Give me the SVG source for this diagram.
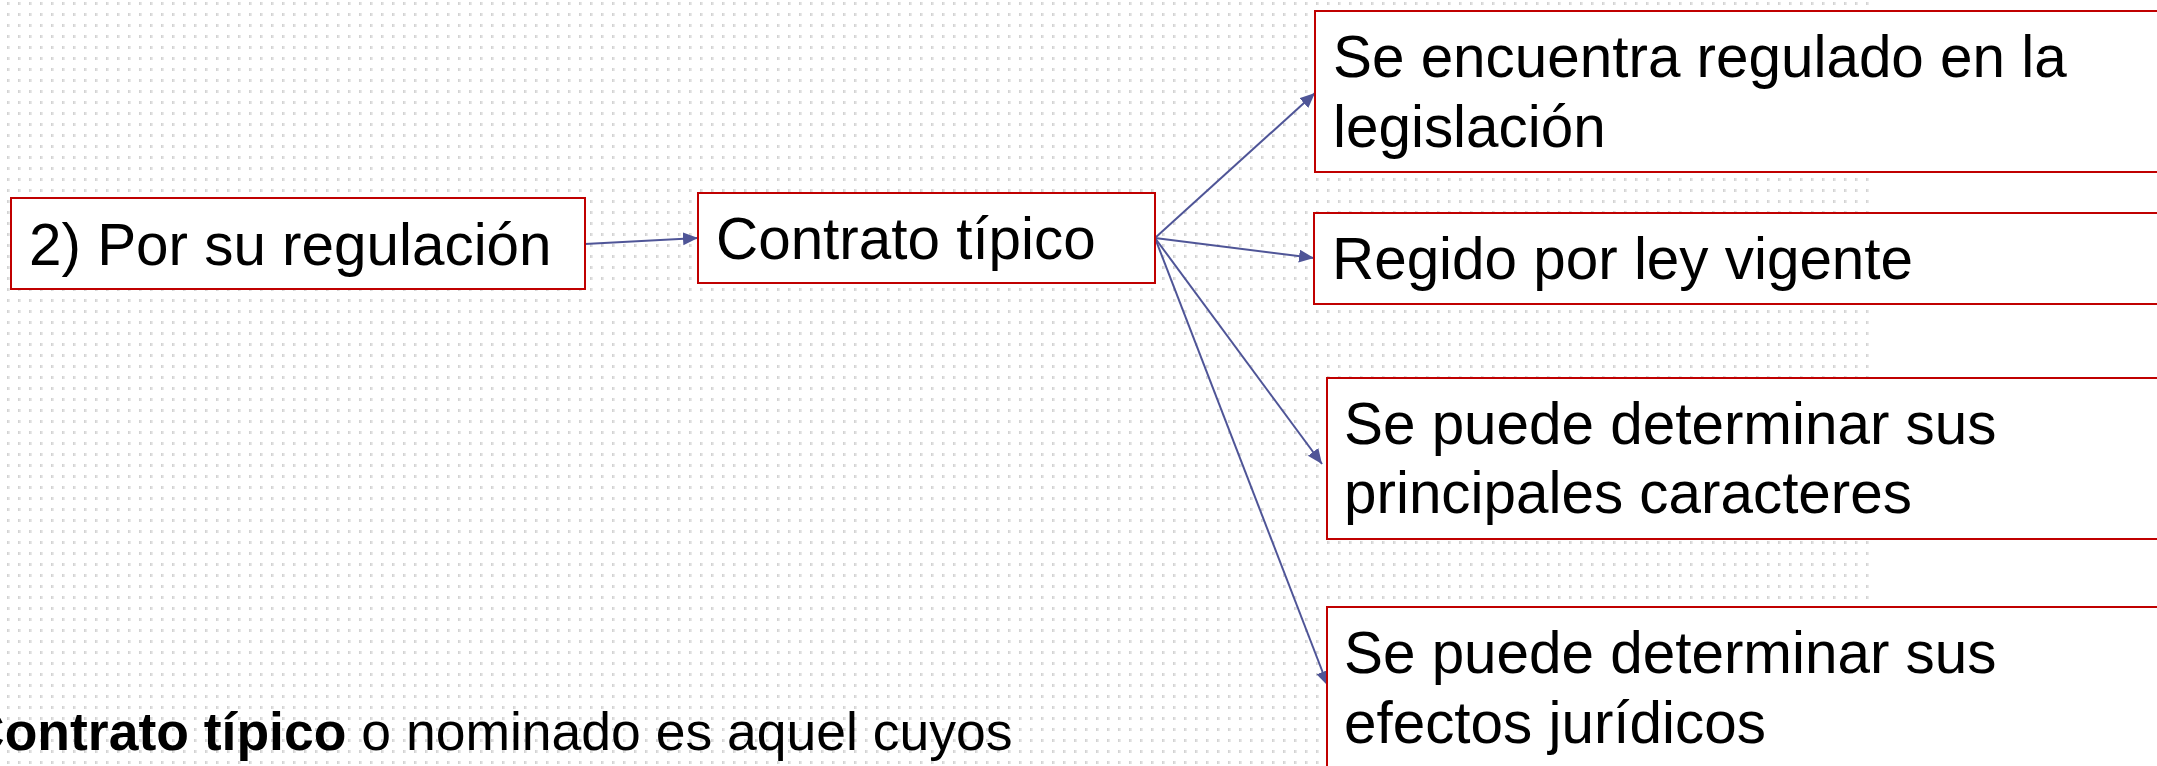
<svg xmlns="http://www.w3.org/2000/svg" width="2157" height="766" viewBox="0 0 2157 766">
<style>
.box{fill:#ffffff;stroke:#c00000;stroke-width:2}
.t{font-family:"Liberation Sans",Arial,sans-serif;font-size:58.4px;fill:#000000}
.b{font-family:"Liberation Sans",Arial,sans-serif;font-size:53.5px;fill:#000000}
.c{stroke:#4f5597;stroke-width:2;fill:none}
</style>
<defs>
<linearGradient id="dg" x1="0" y1="0" x2="1" y2="0">
<stop offset="0" stop-color="#cdcdcd"/>
<stop offset="1" stop-color="#efefef"/>
</linearGradient>
<pattern id="dots" width="11" height="11" x="7" y="2" patternUnits="userSpaceOnUse">
<rect x="0" y="0" width="3" height="3" fill="url(#dg)"/>
</pattern>
<marker id="ah" markerUnits="userSpaceOnUse" markerWidth="16" markerHeight="14" refX="15" refY="6.5" orient="auto">
<path d="M0,0 L15,6.5 L0,13 Z" fill="#4f5597"/>
</marker>
</defs>
<rect x="0" y="0" width="2157" height="766" fill="#ffffff"/>
<rect x="0" y="0" width="1870" height="766" fill="url(#dots)"/>
<g id="connectors">
<line class="c" x1="585" y1="244" x2="698" y2="238" marker-end="url(#ah)"/>
<line class="c" x1="1155" y1="238" x2="1315" y2="93" marker-end="url(#ah)"/>
<line class="c" x1="1155" y1="238" x2="1314" y2="258" marker-end="url(#ah)"/>
<line class="c" x1="1155" y1="238" x2="1322" y2="464" marker-end="url(#ah)"/>
<line class="c" x1="1155" y1="238" x2="1328" y2="686" marker-end="url(#ah)"/>
</g>
<g id="n1">
<rect class="box" x="11" y="198" width="574" height="91"/>
<text class="t" x="29" y="265">2) Por su regulación</text>
</g>
<g id="n2">
<rect class="box" x="698" y="193" width="457" height="90"/>
<text class="t" x="716" y="259">Contrato típico</text>
</g>
<g id="n3">
<rect class="box" x="1315" y="11" width="850" height="161"/>
<text class="t" x="1333" y="77">Se encuentra regulado en la</text>
<text class="t" x="1333" y="147">legislación</text>
</g>
<g id="n4">
<rect class="box" x="1314" y="213" width="850" height="91"/>
<text class="t" x="1332" y="279">Regido por ley vigente</text>
</g>
<g id="n5">
<rect class="box" x="1327" y="378" width="840" height="161"/>
<text class="t" x="1344" y="444">Se puede determinar sus</text>
<text class="t" x="1344" y="513">principales caracteres</text>
</g>
<g id="n6">
<rect class="box" x="1327" y="607" width="840" height="170"/>
<text class="t" x="1344" y="673">Se puede determinar sus</text>
<text class="t" x="1344" y="743">efectos jurídicos</text>
</g>
<g id="note">
<text class="b" x="-34" y="750"><tspan font-weight="bold">Contrato típico</tspan> o nominado es aquel cuyos</text>
</g>
</svg>
